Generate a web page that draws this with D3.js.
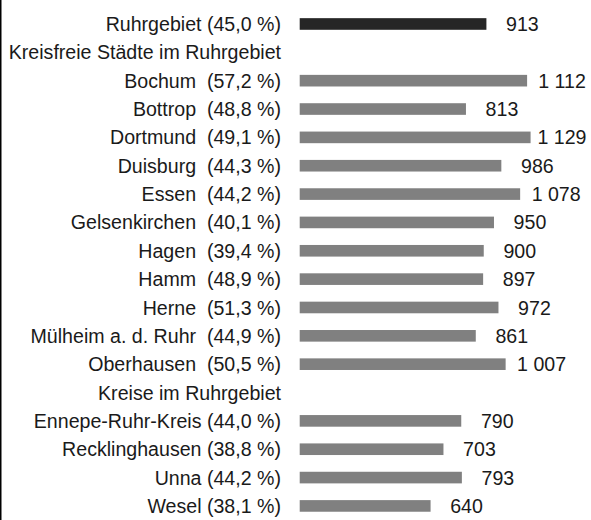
<!DOCTYPE html>
<html>
<head>
<meta charset="utf-8">
<script src="https://cdn.jsdelivr.net/npm/d3@7"></script>
<style>
  html, body { margin: 0; padding: 0; background: #ffffff; }
  svg { display: block; }
  text { font-family: "Liberation Sans", Arial, sans-serif; fill: #1a1a1a; white-space: pre; }
</style>
</head>
<body>
<svg id="chart" width="591" height="520"></svg>
<script>
// Rows from top to bottom: the region total, two group headings, cities and districts
const rowNames = [
  "Ruhrgebiet",
  "Kreisfreie Städte im Ruhrgebiet",
  "Bochum", "Bottrop", "Dortmund", "Duisburg", "Essen", "Gelsenkirchen",
  "Hagen", "Hamm", "Herne", "Mülheim a. d. Ruhr", "Oberhausen",
  "Kreise im Ruhrgebiet",
  "Ennepe-Ruhr-Kreis", "Recklinghausen", "Unna", "Wesel"
];
const rowKinds = [
  "total",
  "header",
  "city", "city", "city", "city", "city", "city",
  "city", "city", "city", "city", "city",
  "header",
  "district", "district", "district", "district"
];
// Share in percent shown in brackets after each name
const shares = [
  45.0,
  null,
  57.2, 48.8, 49.1, 44.3, 44.2, 40.1, 39.4, 48.9, 51.3, 44.9, 50.5,
  null,
  44.0, 38.8, 44.2, 38.1
];
// Bar values
const values = [
  913,
  null,
  1112, 813, 1129, 986, 1078, 950, 900, 897, 972, 861, 1007,
  null,
  790, 703, 793, 640
];

const W = 591, H = 520;
const svg = d3.select("#chart");

const de = d3.formatLocale({ decimal: ",", thousands: " ", grouping: [3], currency: ["", " €"] });
const fmtValue = de.format(",d");
const fmtShare = de.format(".1f");

const y = d3.scaleBand()
  .domain(d3.range(rowNames.length))
  .range([9.8, 520.1])
  .paddingInner(0.59)
  .paddingOuter(0.295);

const x = d3.scaleLinear()
  .domain([0, 1400])
  .range([299.7, 586]);

const labelRight = 281;
const fontSize = 19.6;

// frame line on the left edge
svg.append("rect")
  .attr("x", 0).attr("y", 0)
  .attr("width", 1.5).attr("height", H)
  .attr("fill", "#000");

const rows = rowNames.map((name, i) => ({
  i, name, kind: rowKinds[i], share: shares[i], value: values[i]
}));

function labelText(d) {
  if (d.kind === "header") return d.name;
  const gap = d.kind === "city" ? "  " : " ";
  return d.name + gap + "(" + fmtShare(d.share) + " %)";
}

// row labels
svg.append("g").selectAll("text")
  .data(rows)
  .join("text")
  .attr("x", labelRight)
  .attr("y", d => y(d.i) + y.bandwidth() / 2)
  .attr("dy", "0.36em")
  .attr("text-anchor", "end")
  .attr("font-size", fontSize)
  .text(labelText);

const barRows = rows.filter(d => d.value != null);

// bars
svg.append("g").selectAll("rect")
  .data(barRows)
  .join("rect")
  .attr("x", x(0))
  .attr("y", d => y(d.i))
  .attr("width", d => x(d.value) - x(0))
  .attr("height", y.bandwidth())
  .attr("fill", d => d.kind === "total" ? "#262626" : "#808080");

// value labels, centred a fixed distance past the bar end
const labelOffset = 36;
const maxCenter = 562;
svg.append("g").selectAll("text")
  .data(barRows)
  .join("text")
  .attr("x", d => Math.min(x(d.value) + labelOffset, maxCenter))
  .attr("y", d => y(d.i) + y.bandwidth() / 2)
  .attr("dy", "0.36em")
  .attr("text-anchor", "middle")
  .attr("font-size", fontSize)
  .text(d => fmtValue(d.value));
</script>
</body>
</html>
